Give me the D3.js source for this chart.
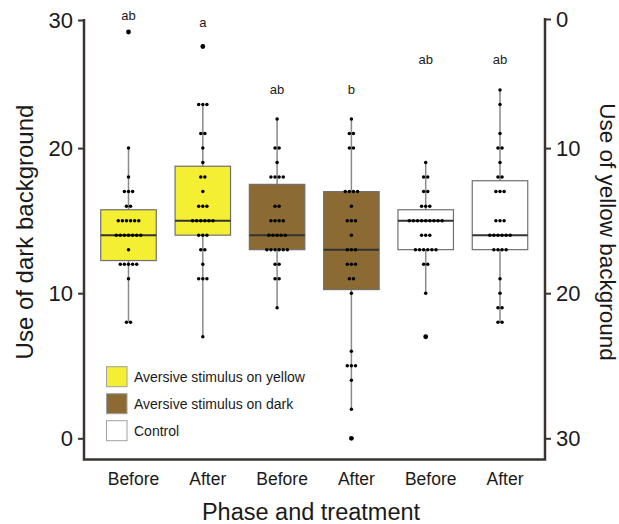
<!DOCTYPE html>
<html>
<head>
<meta charset="utf-8">
<script src="https://cdn.jsdelivr.net/npm/d3@7"></script>
<style>
  body { margin: 0; background: #fff; }
  text { font-family: Arial, "Liberation Sans", sans-serif; fill: #1a1a1a; }
</style>
</head>
<body>
<div id="chart"></div>
<script>
var beforeYellow = [8,8,11,12,12,12,12,12,13,14,14,14,14,14,14,14,15,15,15,15,15,15,16,16,17,17,17,18,20,28];
var afterYellow = [7,11,11,11,12,13,13,14,14,14,15,15,15,15,15,15,16,16,16,17,18,18,19,20,21,21,23,23,23,27];
var beforeDark = [9,11,11,12,12,13,13,13,13,13,13,14,14,14,14,14,15,15,15,15,16,16,18,18,18,18,19,20,20,22];
var afterDark = [0,2,4,5,5,5,6,10,11,11,12,12,12,13,13,13,14,15,15,15,16,17,17,17,17,20,20,21,21,22];
var beforeControl = [7,10,12,12,13,13,13,13,13,13,14,14,14,15,15,15,15,15,15,15,15,15,16,16,16,17,17,18,18,19];
var afterControl = [8,8,9,9,10,11,13,13,13,13,14,14,14,14,14,14,15,15,15,17,17,17,18,18,19,20,20,21,23,24];

var groupKeys = ["yb", "ya", "db", "da", "cb", "ca"];
var phases = ["Before", "After", "Before", "After", "Before", "After"];
var treatments = ["yellow", "yellow", "dark", "dark", "control", "control"];
var groupValues = [beforeYellow, afterYellow, beforeDark, afterDark, beforeControl, afterControl];
var letters = ["ab", "a", "ab", "b", "ab", "ab"];
var letterLevels = [30, 28.8, 23.7, 23.7, 25.8, 25.8];

var leftTicks = [0, 10, 20, 30];
var rightTicks = [0, 10, 20, 30];

var legendKeys = ["yellow", "dark", "control"];
var legendLabels = ["Aversive stimulus on yellow", "Aversive stimulus on dark", "Control"];

var fills = { yellow: "#f4ef32", dark: "#8b6a33", control: "#ffffff" };

var svgWidth = 619;
var svgHeight = 524;
var axisLeftX = 84;
var axisRightX = 545;
var axisBottomY = 459.5;
var boxWidth = 55.5;
var dotGap = 4.1;

var svg = d3.select("#chart")
  .append("svg")
  .attr("width", svgWidth)
  .attr("height", svgHeight);

// the printed axis squeezes its top tick, so the scale is piecewise
var yLeft = d3.scaleLinear()
  .domain([0, 28, 30])
  .range([438.3, 32, 20]);

var yRight = d3.scaleLinear()
  .domain([0, 2, 30])
  .range([19, 32, 438.3]);

var xScale = d3.scalePoint()
  .domain(groupKeys)
  .range([128.5, 500]);

// axes
var leftAxis = d3.axisLeft(yLeft).tickValues(leftTicks).tickSize(6).tickPadding(5);
var rightAxis = d3.axisRight(yRight).tickValues(rightTicks).tickSize(6).tickPadding(5);

var gLeft = svg.append("g")
  .attr("transform", `translate(${axisLeftX},0)`)
  .call(leftAxis);

var gRight = svg.append("g")
  .attr("transform", `translate(${axisRightX},0)`)
  .call(rightAxis);

[gLeft, gRight].forEach(function(g) {
  g.select(".domain").remove();
  g.selectAll(".tick line").attr("stroke", "#3a3330").attr("stroke-width", 2);
  g.selectAll(".tick text")
    .attr("font-size", 22)
    .attr("font-family", "Arial, 'Liberation Sans', sans-serif")
    .attr("fill", "#1a1a1a");
});

svg.append("path")
  .attr("d", `M${axisLeftX},${yLeft(30) - 1}V${axisBottomY}H${axisRightX}V${yRight(0) - 1}`)
  .attr("fill", "none")
  .attr("stroke", "#3a3330")
  .attr("stroke-width", 2.5);

// box stats (Tukey whiskers)
var stats = groupValues.map(function(vals, i) {
  var s = vals.slice().sort(d3.ascending);
  var q1 = d3.quantile(s, 0.25);
  var med = d3.quantile(s, 0.5);
  var q3 = d3.quantile(s, 0.75);
  var iqr = q3 - q1;
  var lo = d3.min(s.filter(v => v >= q1 - 1.5 * iqr));
  var hi = d3.max(s.filter(v => v <= q3 + 1.5 * iqr));
  return { key: groupKeys[i], treatment: treatments[i], values: s, q1: q1, med: med, q3: q3, lo: lo, hi: hi };
});

var boxes = svg.selectAll(".box")
  .data(stats)
  .enter()
  .append("g")
  .attr("class", "box");

boxes.append("line")
  .attr("x1", d => xScale(d.key))
  .attr("x2", d => xScale(d.key))
  .attr("y1", d => yLeft(d.hi))
  .attr("y2", d => yLeft(d.lo))
  .attr("stroke", "#8a8a8a")
  .attr("stroke-width", 1.5);

boxes.append("rect")
  .attr("x", d => xScale(d.key) - boxWidth / 2)
  .attr("width", boxWidth)
  .attr("y", d => yLeft(d.q3))
  .attr("height", d => yLeft(d.q1) - yLeft(d.q3))
  .attr("fill", d => fills[d.treatment])
  .attr("stroke", "#707070")
  .attr("stroke-width", 1.2);

boxes.append("line")
  .attr("x1", d => xScale(d.key) - boxWidth / 2)
  .attr("x2", d => xScale(d.key) + boxWidth / 2)
  .attr("y1", d => yLeft(d.med))
  .attr("y2", d => yLeft(d.med))
  .attr("stroke", "#333")
  .attr("stroke-width", 2);

// dot rows: equal values side by side, centred on the box
boxes.each(function(d) {
  var rows = d3.rollups(d.values, v => v.length, v => v);
  var dots = [];
  rows.forEach(function(r) {
    for (var i = 0; i < r[1]; i++) {
      dots.push({ v: r[0], off: (i - (r[1] - 1) / 2) * dotGap, out: r[0] < d.lo || r[0] > d.hi });
    }
  });
  d3.select(this).selectAll("circle")
    .data(dots)
    .enter()
    .append("circle")
    .attr("cx", p => xScale(d.key) + p.off)
    .attr("cy", p => yLeft(p.v))
    .attr("r", p => p.out ? 2.4 : 1.75)
    .attr("fill", "#000");
});

// significance letters
svg.selectAll(".sig")
  .data(groupKeys)
  .enter()
  .append("text")
  .attr("class", "sig")
  .attr("x", d => xScale(d))
  .attr("y", (d, i) => yLeft(letterLevels[i]))
  .attr("text-anchor", "middle")
  .attr("font-size", 13)
  .text((d, i) => letters[i]);

// category labels
svg.selectAll(".cat")
  .data(groupKeys)
  .enter()
  .append("text")
  .attr("class", "cat")
  .attr("x", d => xScale(d) + 5)
  .attr("y", 485)
  .attr("text-anchor", "middle")
  .attr("font-size", 17.5)
  .text((d, i) => phases[i]);

// axis titles
svg.append("text")
  .attr("x", 311)
  .attr("y", 519.5)
  .attr("text-anchor", "middle")
  .attr("font-size", 23.5)
  .text("Phase and treatment");

svg.append("text")
  .attr("transform", "translate(32.5,232) rotate(-90)")
  .attr("text-anchor", "middle")
  .attr("font-size", 24)
  .text("Use of dark background");

svg.append("text")
  .attr("transform", "translate(600,232) rotate(90)")
  .attr("text-anchor", "middle")
  .attr("font-size", 22.5)
  .text("Use of yellow background");

// legend
var legend = svg.selectAll(".legend")
  .data(legendKeys)
  .enter()
  .append("g")
  .attr("class", "legend")
  .attr("transform", (d, i) => `translate(106.5,${366.7 + i * 27})`);

legend.append("rect")
  .attr("width", 20.5)
  .attr("height", 20)
  .attr("fill", d => fills[d])
  .attr("stroke", "#a0a0a0")
  .attr("stroke-width", 1);

legend.append("text")
  .attr("x", 27.5)
  .attr("y", 15)
  .attr("font-size", 14)
  .text((d, i) => legendLabels[i]);
</script>
</body>
</html>
